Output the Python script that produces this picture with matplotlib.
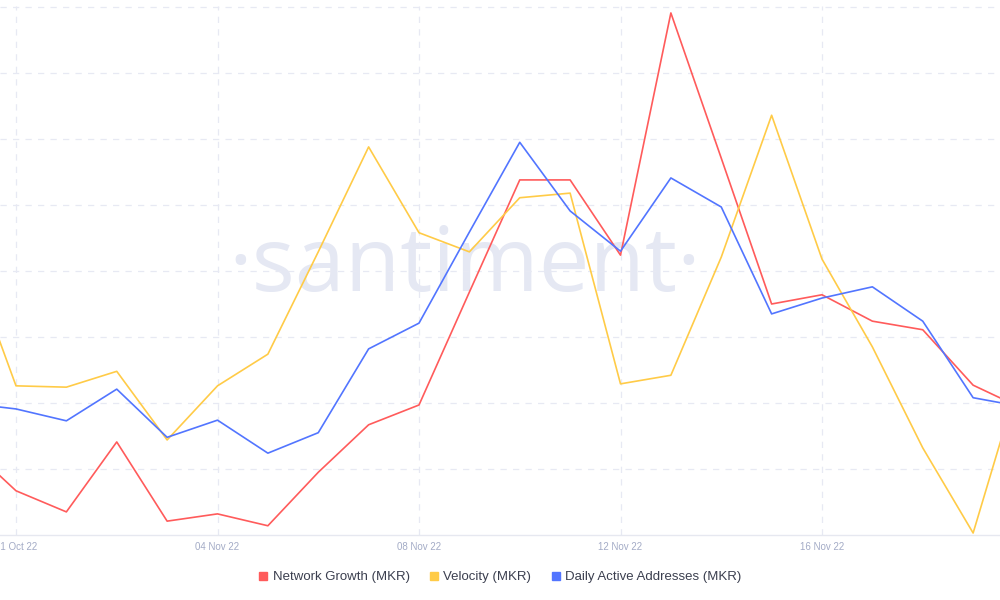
import matplotlib
matplotlib.use("Agg")
import matplotlib.pyplot as plt
import matplotlib.dates as mdates
from matplotlib.lines import Line2D
import numpy as np
import pandas as pd

# ---- data (normalised units) ----
dates = pd.date_range("2022-10-30", "2022-11-20", freq="D")
network_growth = [1.38, 0.67, 0.35, 1.41, 0.21, 0.32, 0.14, 0.95, 1.67, 1.97, 3.68,
                  5.38, 5.38, 4.24, 7.91, 5.71, 3.50, 3.64, 3.24, 3.11, 2.27, 1.91]
velocity = [4.35, 2.26, 2.24, 2.48, 1.44, 2.26, 2.74, 4.29, 5.88, 4.58, 4.29,
            5.11, 5.18, 2.29, 2.42, 4.21, 6.36, 4.18, 2.85, 1.32, 0.03, 2.58]
daily_active = [2.00, 1.91, 1.73, 2.21, 1.48, 1.74, 1.24, 1.55, 2.82, 3.21, 4.59,
                5.95, 4.91, 4.30, 5.41, 4.97, 3.35, 3.59, 3.76, 3.24, 2.08, 1.94]
series_names = ["Network Growth (MKR)", "Velocity (MKR)", "Daily Active Addresses (MKR)"]
tick_dates = pd.to_datetime(["2022-10-31", "2022-11-04", "2022-11-08", "2022-11-12", "2022-11-16"])
tick_labels = ["31 Oct 22", "04 Nov 22", "08 Nov 22", "12 Nov 22", "16 Nov 22"]

colors = ["#ff5b5b", "#ffcb47", "#5275ff"]

plt.rcParams['font.family'] = ['Liberation Sans', 'DejaVu Sans']

fig = plt.figure(figsize=(10, 6), dpi=100)
ax = fig.add_axes([0.0, 65/600, 1.0, 529/600])

# watermark
ax.text(0.465, 0.505, "\u00b7santiment\u00b7", transform=ax.transAxes, ha="center", va="center",
        fontsize=65, color="#e5e8f3", family=["Open Sans", "DejaVu Sans"], zorder=0)

for vals, c, name in zip([network_growth, velocity, daily_active], colors, series_names):
    ax.plot(dates, vals, color=c, lw=1.2, label=name, zorder=3)

start = pd.Timestamp("2022-10-31")
ax.set_xlim(start - pd.Timedelta(days=16/50.375), start + pd.Timedelta(days=984/50.375))
ax.set_ylim(0, 529/66)

ax.set_xticks(tick_dates)
ax.set_xticklabels(tick_labels)
ax.set_yticks(np.arange(1, 9))
ax.tick_params(axis="x", length=0, pad=5, labelsize=7, labelcolor="#a3abc6")
ax.tick_params(axis="y", length=0, labelleft=False)
ax.grid(True, color="#e7e9f3", lw=0.9, ls=(0, (5, 5)))
for s in ["left", "right", "top"]:
    ax.spines[s].set_visible(False)
ax.spines["bottom"].set_color("#e6e8f0")
ax.spines["bottom"].set_linewidth(1.0)

handles = [Line2D([], [], marker="s", ls="none", markersize=5.8, color=c) for c in colors]
fig.legend(handles, series_names, loc="center", bbox_to_anchor=(0.5, 1 - 577/600), ncol=3,
           frameon=False, fontsize=9.5, handlelength=0.7, handletextpad=0.35, columnspacing=1.5,
           labelcolor="#3b3f4f")

fig.savefig("out.png", dpi=100, facecolor="white")
